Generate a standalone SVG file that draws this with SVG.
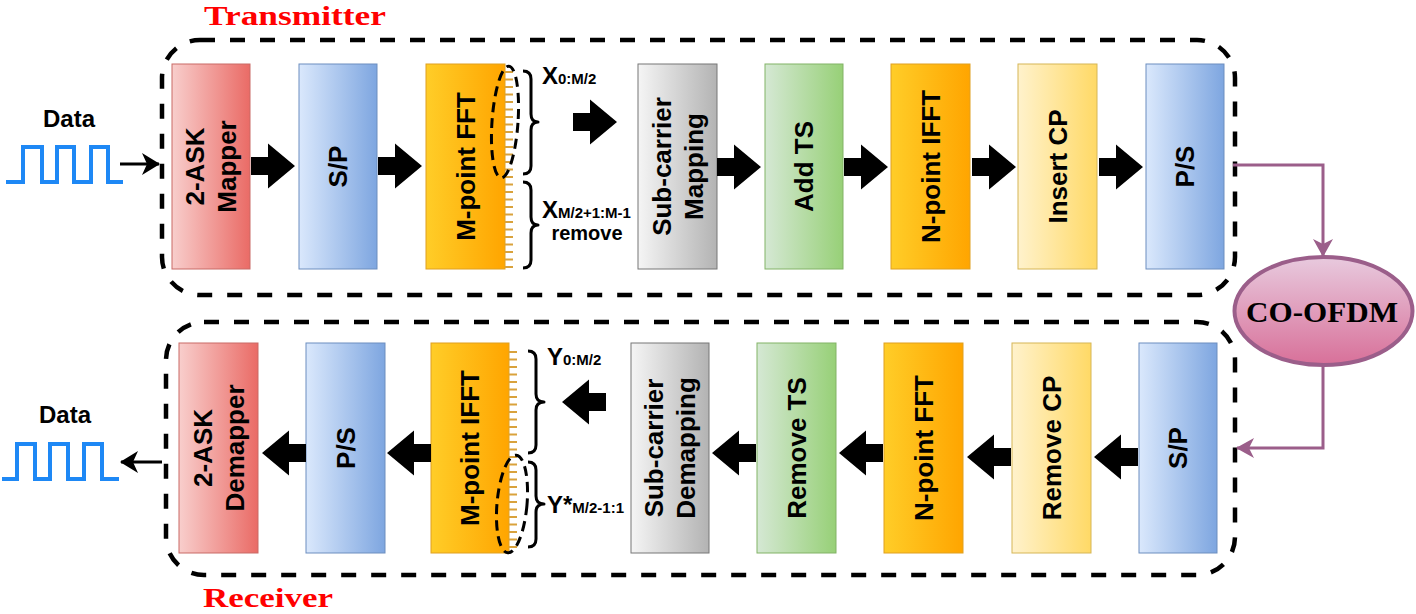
<svg xmlns="http://www.w3.org/2000/svg" width="1416" height="614" viewBox="0 0 1416 614">
<defs>
  <linearGradient id="gRed" x1="0" y1="0" x2="1" y2="0"><stop offset="0" stop-color="#f8cecc"/><stop offset="1" stop-color="#ea6b66"/></linearGradient>
  <linearGradient id="gBlue" x1="0" y1="0" x2="1" y2="0"><stop offset="0" stop-color="#dae8fc"/><stop offset="1" stop-color="#7ea6e0"/></linearGradient>
  <linearGradient id="gOrange" x1="0" y1="0" x2="1" y2="0"><stop offset="0" stop-color="#ffcd28"/><stop offset="1" stop-color="#ffa500"/></linearGradient>
  <linearGradient id="gGray" x1="0" y1="0" x2="1" y2="0"><stop offset="0" stop-color="#f5f5f5"/><stop offset="1" stop-color="#b3b3b3"/></linearGradient>
  <linearGradient id="gGreen" x1="0" y1="0" x2="1" y2="0"><stop offset="0" stop-color="#d5e8d4"/><stop offset="1" stop-color="#97d077"/></linearGradient>
  <linearGradient id="gYellow" x1="0" y1="0" x2="1" y2="0"><stop offset="0" stop-color="#fff2cc"/><stop offset="1" stop-color="#ffd966"/></linearGradient>
  <linearGradient id="gPink" x1="0" y1="0" x2="0" y2="1"><stop offset="0" stop-color="#e8cade"/><stop offset="1" stop-color="#d87099"/></linearGradient>
  <marker id="mPurple" viewBox="0 0 18 20" refX="17" refY="10" markerWidth="18" markerHeight="20" markerUnits="userSpaceOnUse" orient="auto">
    <path d="M0,0 L18,10 L0,20 L5,10 Z" fill="#9b5e8a"/>
  </marker>
  <marker id="mBlack" viewBox="0 0 18 22" refX="17" refY="11" markerWidth="18" markerHeight="22" markerUnits="userSpaceOnUse" orient="auto">
    <path d="M0,0 L18,11 L0,22 L5,11 Z" fill="#000"/>
  </marker>
  <path id="bigArrow" d="M0,-9 H17 V-22.5 L44,0 L17,22.5 V9 H0 Z" fill="#000"/>
</defs>
<style>
  .lbl{font-family:"Liberation Sans",Arial,sans-serif;font-weight:bold;font-size:26px;fill:#000;text-anchor:middle}
  .sans{font-family:"Liberation Sans",Arial,sans-serif;font-weight:bold;fill:#000}
  .title{font-family:"Liberation Serif","Times New Roman",serif;font-weight:bold;font-size:28px;fill:#ff0000}
  .frame{fill:none;stroke:#000;stroke-width:4.5;stroke-dasharray:15 15}
  .oval{fill:none;stroke:#000;stroke-width:3;stroke-dasharray:10 6}
  .brace{fill:none;stroke:#000;stroke-width:3;stroke-linejoin:round}
  .ticks{stroke:#d9a23c;stroke-width:8;stroke-dasharray:2 5.5}
  .wave{fill:none;stroke:#1e88f5;stroke-width:4}
  .red{fill:url(#gRed);stroke:#c96a66;stroke-width:1}
  .blue{fill:url(#gBlue);stroke:#6c8ebf;stroke-width:1}
  .orange{fill:url(#gOrange);stroke:#e0a020;stroke-width:1}
  .gray{fill:url(#gGray);stroke:#777;stroke-width:1}
  .green{fill:url(#gGreen);stroke:#82b366;stroke-width:1}
  .yellow{fill:url(#gYellow);stroke:#d6b656;stroke-width:1}
  .pconn{fill:none;stroke:#9b5e8a;stroke-width:3}
</style>

<!-- frames and titles -->
<g id="transmitter">
  <rect class="frame" x="162" y="40" width="1073" height="255" rx="38" ry="38"/>
  <text class="title" x="204" y="25" textLength="182" lengthAdjust="spacingAndGlyphs">Transmitter</text>
</g>
<g id="receiver">
  <rect class="frame" x="166" y="322" width="1069" height="253" rx="38" ry="38"/>
  <text class="title" x="203" y="607" textLength="130" lengthAdjust="spacingAndGlyphs">Receiver</text>
</g>

<!-- data sources -->
<g id="data-in">
  <text class="sans" x="69" y="127" font-size="24" text-anchor="middle">Data</text>
  <path class="wave" d="M6,182 H23 V147 H42 V182 H57 V147 H74 V182 H91 V147 H108 V182 H123"/>
</g>
<g id="data-out">
  <text class="sans" x="65" y="423" font-size="24" text-anchor="middle">Data</text>
  <path class="wave" d="M2,479 H17 V444 H35 V479 H50 V444 H68 V479 H84 V444 H102 V479 H119"/>
</g>

<!-- transmitter blocks -->
<g id="tx-mapper">
  <rect class="red" x="172" y="64" width="78" height="205"/>
  <text class="lbl" transform="translate(204.3,166.5) rotate(-90)"><tspan x="0">2-ASK</tspan><tspan x="0" dy="32">Mapper</tspan></text>
</g>
<g id="tx-sp">
  <rect class="blue" x="299" y="64" width="78" height="205"/>
  <text class="lbl" transform="translate(347.3,166.5) rotate(-90)">S/P</text>
</g>
<g id="tx-fft">
  <rect class="orange" x="426" y="64" width="79" height="205"/>
  <text class="lbl" transform="translate(474.8,166.5) rotate(-90)">M-point FFT</text>
  <line class="ticks" x1="509" y1="71" x2="509" y2="268"/>
  <ellipse class="oval" cx="505" cy="122" rx="13" ry="56" transform="rotate(4 505 122)"/>
  <path class="brace" d="M523,71 Q531,71 531,79 V114 Q531,122 538,122 Q531,122 531,130 V166 Q531,174 523,174"/>
  <path class="brace" d="M523,182 Q531,182 531,190 V217 Q531,225 538,225 Q531,225 531,233 V260 Q531,268 523,268"/>
  <text class="sans" x="542" y="84" font-size="24">X<tspan font-size="15">0:M/2</tspan></text>
  <text class="sans" x="542" y="218" font-size="24">X<tspan font-size="15">M/2+1:M-1</tspan></text>
  <text class="sans" x="587" y="240" font-size="20" text-anchor="middle">remove</text>
</g>
<g id="tx-submap">
  <rect class="gray" x="638" y="64" width="79" height="205"/>
  <text class="lbl" transform="translate(670.8,166.5) rotate(-90)"><tspan x="0">Sub-carrier</tspan><tspan x="0" dy="32">Mapping</tspan></text>
</g>
<g id="tx-addts">
  <rect class="green" x="765" y="64" width="78" height="205"/>
  <text class="lbl" transform="translate(813.3,166.5) rotate(-90)">Add TS</text>
</g>
<g id="tx-ifft">
  <rect class="orange" x="891" y="64" width="79" height="205"/>
  <text class="lbl" transform="translate(939.8,166.5) rotate(-90)">N-point IFFT</text>
</g>
<g id="tx-cp">
  <rect class="yellow" x="1018" y="64" width="79" height="205"/>
  <text class="lbl" transform="translate(1066.8,166.5) rotate(-90)">Insert CP</text>
</g>
<g id="tx-ps">
  <rect class="blue" x="1146" y="64" width="78" height="205"/>
  <text class="lbl" transform="translate(1194.3,166.5) rotate(-90)">P/S</text>
</g>

<!-- channel -->
<g id="co-ofdm">
  <ellipse cx="1323.5" cy="311" rx="89" ry="54" fill="url(#gPink)" stroke="#9b5e8a" stroke-width="4"/>
  <text x="1322" y="322" font-family="'Liberation Serif','Times New Roman',serif" font-weight="bold" font-size="30" fill="#000" text-anchor="middle" textLength="152" lengthAdjust="spacingAndGlyphs">CO-OFDM</text>
</g>

<!-- receiver blocks -->
<g id="rx-demapper">
  <rect class="red" x="179" y="343" width="79" height="210"/>
  <text class="lbl" transform="translate(211.8,448) rotate(-90)"><tspan x="0">2-ASK</tspan><tspan x="0" dy="32">Demapper</tspan></text>
</g>
<g id="rx-ps">
  <rect class="blue" x="306" y="343" width="79" height="210"/>
  <text class="lbl" transform="translate(354.8,448) rotate(-90)">P/S</text>
</g>
<g id="rx-ifft">
  <rect class="orange" x="431" y="343" width="78" height="210"/>
  <text class="lbl" transform="translate(479.3,448) rotate(-90)">M-point IFFT</text>
  <line class="ticks" x1="513" y1="351" x2="513" y2="548"/>
  <ellipse class="oval" cx="512" cy="504" rx="15" ry="49" transform="rotate(5 512 504)"/>
  <path class="brace" d="M528,351 Q536,351 536,359 V394 Q536,402 544,402 Q536,402 536,410 V445 Q536,453 528,453"/>
  <path class="brace" d="M528,462 Q536,462 536,470 V496 Q536,504 544,504 Q536,504 536,512 V539 Q536,547 528,547"/>
  <text class="sans" x="547" y="365" font-size="24">Y<tspan font-size="15">0:M/2</tspan></text>
  <text class="sans" x="547" y="513" font-size="24">Y*<tspan font-size="15">M/2-1:1</tspan></text>
</g>
<g id="rx-subdemap">
  <rect class="gray" x="631" y="343" width="78" height="210"/>
  <text class="lbl" transform="translate(663.3,448) rotate(-90)"><tspan x="0">Sub-carrier</tspan><tspan x="0" dy="32">Demapping</tspan></text>
</g>
<g id="rx-removets">
  <rect class="green" x="757" y="343" width="79" height="210"/>
  <text class="lbl" transform="translate(805.8,448) rotate(-90)">Remove TS</text>
</g>
<g id="rx-fft">
  <rect class="orange" x="884" y="343" width="79" height="210"/>
  <text class="lbl" transform="translate(932.8,448) rotate(-90)">N-point FFT</text>
</g>
<g id="rx-removecp">
  <rect class="yellow" x="1012" y="343" width="79" height="210"/>
  <text class="lbl" transform="translate(1060.8,448) rotate(-90)">Remove CP</text>
</g>
<g id="rx-sp">
  <rect class="blue" x="1139" y="343" width="78" height="210"/>
  <text class="lbl" transform="translate(1187.3,448) rotate(-90)">S/P</text>
</g>

<!-- connectors -->
<g id="connectors">
  <line x1="120" y1="164" x2="159" y2="164" stroke="#000" stroke-width="3" marker-end="url(#mBlack)"/>
  <line x1="162" y1="462" x2="121" y2="462" stroke="#000" stroke-width="3" marker-end="url(#mBlack)"/>
  <use href="#bigArrow" transform="translate(251,166)"/>
  <use href="#bigArrow" transform="translate(378,166)"/>
  <use href="#bigArrow" transform="translate(573,122)"/>
  <use href="#bigArrow" transform="translate(717,167)"/>
  <use href="#bigArrow" transform="translate(844,167)"/>
  <use href="#bigArrow" transform="translate(972,167)"/>
  <use href="#bigArrow" transform="translate(1099,167)"/>
  <use href="#bigArrow" transform="translate(1138,457) scale(-1,1)"/>
  <use href="#bigArrow" transform="translate(1011,457) scale(-1,1)"/>
  <use href="#bigArrow" transform="translate(883,453) scale(-1,1)"/>
  <use href="#bigArrow" transform="translate(756,453) scale(-1,1)"/>
  <use href="#bigArrow" transform="translate(606,402) scale(-1,1)"/>
  <use href="#bigArrow" transform="translate(431,453) scale(-1,1)"/>
  <use href="#bigArrow" transform="translate(306,453) scale(-1,1)"/>
  <path class="pconn" d="M1233,165 H1323 V256" marker-end="url(#mPurple)"/>
  <path class="pconn" d="M1323,366 V448 H1237" marker-end="url(#mPurple)"/>
</g>
</svg>
